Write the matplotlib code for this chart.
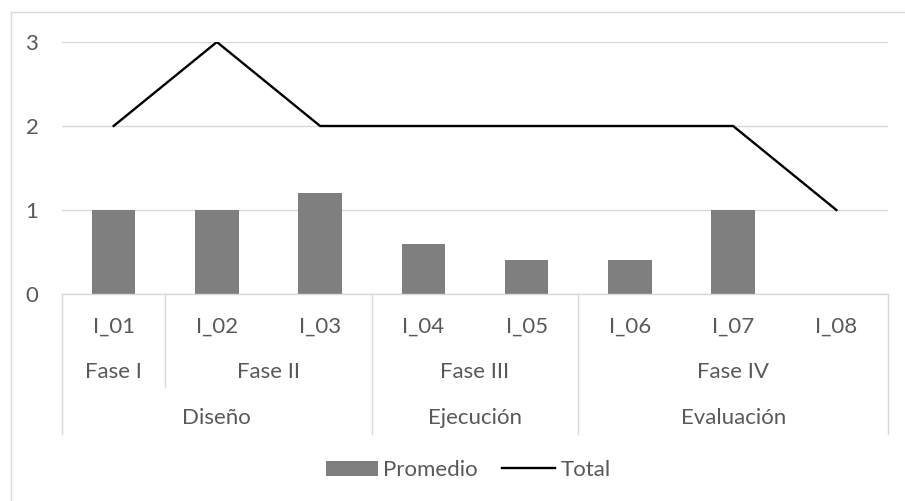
import matplotlib
matplotlib.use("Agg")
import matplotlib.pyplot as plt
from matplotlib.lines import Line2D
from matplotlib.patches import Patch
from matplotlib.transforms import blended_transform_factory

# ---- data ----
items = ["I_01", "I_02", "I_03", "I_04", "I_05", "I_06", "I_07", "I_08"]
promedio = [1.0, 1.0, 1.2, 0.6, 0.4, 0.4, 1.0, 0.0]
total = [2, 3, 2, 2, 2, 2, 2, 1]
fases = ["Fase I", "Fase II", "Fase III", "Fase IV"]
fase_sizes = [1, 2, 2, 3]
grupos = ["Diseño", "Ejecución", "Evaluación"]
grupo_sizes = [3, 2, 3]
yticks = [0, 1, 2, 3]

# ---- style ----
W, H = 905, 501
TXT = "#595959"
GRID = "#D9D9D9"
BAR = "#7F7F7F"
FS = 16
plt.rcParams["font.family"] = ["Lato", "DejaVu Sans"]

fig = plt.figure(figsize=(W / 100, H / 100), dpi=100)
fig.patch.set_facecolor("white")

def fy(py):
    return 1 - py / H

def fx(px):
    return px / W

left, right, top, bottom = 62, 888, 42, 294
ax = fig.add_axes([fx(left), fy(bottom), fx(right) - fx(left), (bottom - top) / H])

x = list(range(len(items)))
ax.bar(x, promedio, width=0.42, color=BAR, zorder=2)
ax.plot(x, total, color="black", lw=1.7, zorder=3, solid_joinstyle="miter")

ax.set_xlim(-0.5, len(items) - 0.5)
ax.set_ylim(0, 3)
ax.set_yticks(yticks)
ax.set_yticklabels([str(v) for v in yticks])
ax.set_xticks([])
ax.tick_params(axis="y", length=0, pad=17, labelsize=FS, labelcolor=TXT)
for s in ["top", "right", "left"]:
    ax.spines[s].set_visible(False)
ax.spines["bottom"].set_color(GRID)
ax.spines["bottom"].set_linewidth(1.0)
ax.yaxis.grid(True, color=GRID, lw=1.0, zorder=0)
ax.set_axisbelow(True)

tr = blended_transform_factory(ax.transData, fig.transFigure)

# item labels
for i, lab in enumerate(items):
    ax.text(i, fy(327), lab, transform=tr, ha="center", va="center",
            fontsize=FS, color=TXT, clip_on=False)

# fase labels
start = 0
for lab, n in zip(fases, fase_sizes):
    c = start + (n - 1) / 2
    ax.text(c, fy(372), lab, transform=tr, ha="center", va="center",
            fontsize=FS, color=TXT, clip_on=False)
    start += n

# grupo labels
start = 0
full_bounds = [-0.5]
for lab, n in zip(grupos, grupo_sizes):
    c = start + (n - 1) / 2
    ax.text(c, fy(418), lab, transform=tr, ha="center", va="center",
            fontsize=FS, color=TXT, clip_on=False)
    start += n
    full_bounds.append(start - 0.5)

# fase boundaries
fase_bounds = []
start = 0
for n in fase_sizes:
    start += n
    fase_bounds.append(start - 0.5)

for b in full_bounds:
    ax.add_line(Line2D([b, b], [fy(bottom), fy(434)], transform=tr,
                       color=GRID, lw=1.0, clip_on=False))
for b in fase_bounds:
    if b not in full_bounds:
        ax.add_line(Line2D([b, b], [fy(bottom), fy(387)], transform=tr,
                           color=GRID, lw=1.0, clip_on=False))

# chart border (top & left visible)
fig.add_artist(Line2D([fx(11), fx(11)], [fy(12), 0], transform=fig.transFigure,
                      color=GRID, lw=1.0))
fig.add_artist(Line2D([fx(11), 1], [fy(12), fy(12)], transform=fig.transFigure,
                      color=GRID, lw=1.0))

# legend
handles = [Patch(facecolor=BAR, edgecolor="none", label="Promedio"),
           Line2D([0], [0], color="black", lw=1.7, label="Total")]
fig.legend(handles=handles, loc="center", bbox_to_anchor=(fx(468), fy(470)),
           ncol=2, frameon=False, fontsize=FS, labelcolor=TXT,
           handlelength=2.35, handleheight=0.65, handletextpad=0.25,
           columnspacing=1.1, borderaxespad=0, borderpad=0)

fig.savefig("out.png", dpi=100, facecolor="white")
